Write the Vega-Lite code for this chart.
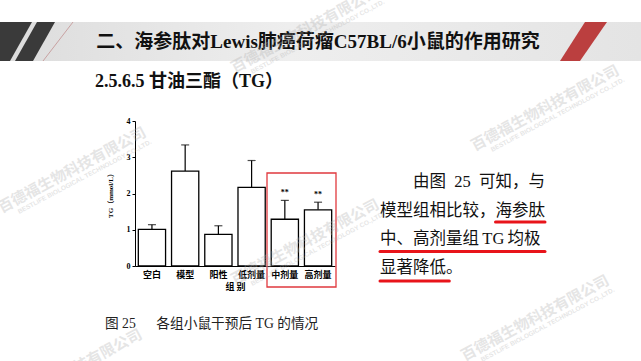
{
  "$schema": "https://vega.github.io/schema/vega-lite/v6.json",
  "width": 200,
  "height": 145,
  "autosize": {"type": "none"},
  "padding": {"left": 135, "top": 121, "right": 306, "bottom": 95},
  "background": "white",
  "config": {
    "view": {"stroke": null},
    "axisY": {"values": [0, 1, 2, 3, 4], "format": "d", "grid": false, "domainColor": "black", "tickColor": "black", "tickSize": 3, "labelOverlap": false,
      "labelFont": "Liberation Serif", "labelFontWeight": "bold", "labelFontSize": 8, "labelColor": "black", "labelPadding": 2,
      "titleFont": "Liberation Serif, Noto Sans CJK SC", "titleFontSize": 7, "titleFontWeight": "bold", "titleColor": "black", "titlePadding": 13}
  },
  "datasets": {
    "bars": [
      {"group": "空白", "tg": 1.01, "upper": 1.14, "sig": ""},
      {"group": "模型", "tg": 2.62, "upper": 3.34, "sig": ""},
      {"group": "阳性", "tg": 0.87, "upper": 1.11, "sig": ""},
      {"group": "低剂量", "tg": 2.17, "upper": 2.91, "sig": ""},
      {"group": "中剂量", "tg": 1.29, "upper": 1.81, "sig": "**"},
      {"group": "高剂量", "tg": 1.55, "upper": 1.76, "sig": "**"}
    ],
    "para": [
      {"line": 1, "text": "由图\u200225\u2002可知，与"},
      {"line": 2, "text": "模型组相比较，海参肽"},
      {"line": 3, "text": "中、高剂量组\u2009TG\u2009均极"},
      {"line": 4, "text": "显著降低。"}
    ],
    "under": [
      {"line": 2, "from": 7, "to": 10},
      {"line": 3, "from": 0, "to": 10},
      {"line": 4, "from": 0, "to": 4.2}
    ],
    "one": [{}],
    "wm": [{"cn": "百德福生物科技有限公司", "en": "BESTLIFE BIOLOGICAL TECHNOLOGY CO.,LTD."}]
  },
  "layer": [
    {
      "data": {"name": "one"},
      "mark": {"type": "rect", "fill": {"gradient": "linear", "stops": [{"offset": 0, "color": "#dcdcdc"}, {"offset": 0.45, "color": "#eeeeee"}, {"offset": 1, "color": "#e4e4e4"}]}},
      "encoding": {
        "x": {"datum": 0, "type": "quantitative", "scale": {"domain": [0, 641], "range": [-135, 506], "nice": false, "zero": false}, "axis": null},
        "x2": {"datum": 641},
        "y": {"datum": 22, "type": "quantitative", "scale": {"domain": [0, 361], "range": [-121, 240], "nice": false, "zero": false}, "axis": null},
        "y2": {"datum": 61}
      }
    },
    {
      "data": {"name": "one"},
      "mark": {"type": "point", "filled": true, "fill": "#3a3a3a", "opacity": 1, "strokeWidth": 0, "size": 2916, "shape": "M-0.185,-0.722L1,-0.722L0.185,0.722L-1,0.722Z"},
      "encoding": {
        "x": {"datum": 5, "type": "quantitative", "scale": {"domain": [0, 641], "range": [-135, 506], "nice": false, "zero": false}, "axis": null},
        "y": {"datum": 41.5, "type": "quantitative", "scale": {"domain": [0, 361], "range": [-121, 240], "nice": false, "zero": false}, "axis": null}
      }
    },
    {
      "data": {"name": "one"},
      "mark": {"type": "point", "filled": true, "fill": "#3a3a3a", "opacity": 1, "strokeWidth": 0, "size": 1600, "shape": "M0.1,-0.975L1,-0.975L-0.1,0.975L-1,0.975Z"},
      "encoding": {
        "x": {"datum": 35, "type": "quantitative", "scale": {"domain": [0, 641], "range": [-135, 506], "nice": false, "zero": false}, "axis": null},
        "y": {"datum": 41.5, "type": "quantitative", "scale": {"domain": [0, 361], "range": [-121, 240], "nice": false, "zero": false}, "axis": null}
      }
    },
    {
      "data": {"name": "one"},
      "mark": {"type": "rule", "color": "#c9a2a2", "strokeWidth": 1},
      "encoding": {
        "x": {"datum": 73, "type": "quantitative", "scale": {"domain": [0, 641], "range": [-135, 506], "nice": false, "zero": false}, "axis": null},
        "x2": {"datum": 43},
        "y": {"datum": 22, "type": "quantitative", "scale": {"domain": [0, 361], "range": [-121, 240], "nice": false, "zero": false}, "axis": null},
        "y2": {"datum": 61}
      }
    },
    {
      "data": {"name": "one"},
      "mark": {"type": "point", "filled": true, "fill": "#bb3f3f", "opacity": 1, "strokeWidth": 0, "size": 2304, "shape": "M0.0625,-0.8125L0.979,-0.8125L-0.146,0.8125L-0.979,0.8125Z"},
      "encoding": {
        "x": {"datum": 583.5, "type": "quantitative", "scale": {"domain": [0, 641], "range": [-135, 506], "nice": false, "zero": false}, "axis": null},
        "y": {"datum": 41.5, "type": "quantitative", "scale": {"domain": [0, 361], "range": [-121, 240], "nice": false, "zero": false}, "axis": null}
      }
    },
    {
      "data": {"values": [{"t": "二、海参肽对Lewis肺癌荷瘤C57BL/6小鼠的作用研究"}]},
      "mark": {"type": "text", "font": "Liberation Serif, Noto Sans CJK SC", "fontSize": 19, "fontWeight": "bold", "color": "#111111", "align": "center", "baseline": "middle"},
      "encoding": {
        "x": {"datum": 318, "type": "quantitative", "scale": {"domain": [0, 641], "range": [-135, 506], "nice": false, "zero": false}, "axis": null},
        "y": {"datum": 42, "type": "quantitative", "scale": {"domain": [0, 361], "range": [-121, 240], "nice": false, "zero": false}, "axis": null},
        "text": {"field": "t"}
      }
    },
    {
      "data": {"values": [{"t": "2.5.6.5 甘油三酯（TG）"}]},
      "mark": {"type": "text", "font": "Liberation Serif, Noto Sans CJK SC", "fontSize": 18, "fontWeight": "bold", "color": "#111111", "align": "left", "baseline": "middle"},
      "encoding": {
        "x": {"datum": 95, "type": "quantitative", "scale": {"domain": [0, 641], "range": [-135, 506], "nice": false, "zero": false}, "axis": null},
        "y": {"datum": 82, "type": "quantitative", "scale": {"domain": [0, 361], "range": [-121, 240], "nice": false, "zero": false}, "axis": null},
        "text": {"field": "t"}
      }
    },
    {
      "data": {"name": "bars"},
      "encoding": {
        "x": {
          "field": "group", "type": "nominal", "sort": null,
          "scale": {"paddingInner": 0.18, "paddingOuter": 0.1},
          "axis": {"title": "组 别", "labelAngle": 0, "ticks": false, "domainColor": "black", "domainWidth": 1,
            "labelFont": "Noto Sans CJK SC", "labelFontWeight": "bold", "labelFontSize": 9, "labelColor": "black", "labelPadding": 4,
            "titleFont": "Noto Sans CJK SC", "titleFontWeight": "bold", "titleFontSize": 9, "titleColor": "black", "titlePadding": 3}
        }
      },
      "layer": [
        {
          "mark": {"type": "rule", "color": "black", "strokeWidth": 1.2},
          "encoding": {
            "y": {"field": "tg", "type": "quantitative", "scale": {"domain": [0, 4], "nice": false}, "title": "TG（mmol/L）"},
            "y2": {"field": "upper"}
          }
        },
        {
          "mark": {"type": "tick", "color": "black", "thickness": 1.2, "size": 8},
          "encoding": {"y": {"field": "upper", "type": "quantitative", "title": "TG（mmol/L）"}}
        },
        {
          "mark": {"type": "bar", "fill": "white", "stroke": "black", "strokeWidth": 1.3},
          "encoding": {"y": {"field": "tg", "type": "quantitative", "title": "TG（mmol/L）"}}
        },
        {
          "mark": {"type": "text", "baseline": "bottom", "dy": -3, "fontSize": 8, "fontWeight": "bold", "font": "Liberation Serif", "color": "black"},
          "encoding": {"y": {"field": "upper", "type": "quantitative", "title": "TG（mmol/L）"}, "text": {"field": "sig"}}
        }
      ]
    },
    {
      "data": {"name": "one"},
      "mark": {"type": "rect", "fill": null, "fillOpacity": 0, "stroke": "#e0393e", "strokeWidth": 1.3},
      "encoding": {
        "x": {"datum": 267, "type": "quantitative", "scale": {"domain": [0, 641], "range": [-135, 506], "nice": false, "zero": false}, "axis": null},
        "x2": {"datum": 336},
        "y": {"datum": 173, "type": "quantitative", "scale": {"domain": [0, 361], "range": [-121, 240], "nice": false, "zero": false}, "axis": null},
        "y2": {"datum": 287}
      }
    },
    {
      "data": {"name": "para"},
      "transform": [{"filter": "datum.line == 1"}],
      "mark": {"type": "text", "font": "Liberation Serif, Noto Sans CJK SC", "fontSize": 16.5, "color": "#111111", "align": "left", "baseline": "middle"},
      "encoding": {
        "x": {"datum": 413, "type": "quantitative", "scale": {"domain": [0, 641], "range": [-135, 506], "nice": false, "zero": false}, "axis": null},
        "y": {"field": "line", "type": "quantitative", "scale": {"domain": [1, 4], "range": [61, 147], "nice": false, "zero": false}, "axis": null},
        "text": {"field": "text"}
      }
    },
    {
      "data": {"name": "para"},
      "transform": [{"filter": "datum.line > 1"}],
      "mark": {"type": "text", "font": "Liberation Serif, Noto Sans CJK SC", "fontSize": 16.5, "color": "#111111", "align": "left", "baseline": "middle"},
      "encoding": {
        "x": {"datum": 380, "type": "quantitative", "scale": {"domain": [0, 641], "range": [-135, 506], "nice": false, "zero": false}, "axis": null},
        "y": {"field": "line", "type": "quantitative", "scale": {"domain": [1, 4], "range": [61, 147], "nice": false, "zero": false}, "axis": null},
        "text": {"field": "text"}
      }
    },
    {
      "data": {"name": "under"},
      "mark": {"type": "rule", "color": "#e8141a", "strokeWidth": 3, "strokeCap": "round"},
      "encoding": {
        "x": {"field": "from", "type": "quantitative", "scale": {"domain": [0, 10], "range": [245, 410], "nice": false, "zero": false}, "axis": null},
        "x2": {"field": "to"},
        "y": {"field": "line", "type": "quantitative", "scale": {"domain": [2, 4], "range": [101, 160], "nice": false, "zero": false}, "axis": null}
      }
    },
    {
      "data": {"values": [{"t": "图 25\u2003\u2002各组小鼠干预后 TG 的情况"}]},
      "mark": {"type": "text", "font": "Liberation Serif, Noto Sans CJK SC", "fontSize": 13.7, "color": "#222222", "align": "left", "baseline": "middle"},
      "encoding": {
        "x": {"datum": 105, "type": "quantitative", "scale": {"domain": [0, 641], "range": [-135, 506], "nice": false, "zero": false}, "axis": null},
        "y": {"datum": 324, "type": "quantitative", "scale": {"domain": [0, 361], "range": [-121, 240], "nice": false, "zero": false}, "axis": null},
        "text": {"field": "t"}
      }
    },
    {
      "data": {"name": "wm"},
      "layer": [
        {"mark": {"type": "text", "font": "Noto Sans CJK SC", "fontWeight": "bold", "fontSize": 15, "angle": -28, "color": "#b0b0b0", "opacity": 0.32, "align": "center", "baseline": "middle"},
          "encoding": {"x": {"datum": 72, "type": "quantitative", "scale": {"domain": [0, 641], "range": [-135, 506], "nice": false, "zero": false}, "axis": null},
            "y": {"datum": 170, "type": "quantitative", "scale": {"domain": [0, 361], "range": [-121, 240], "nice": false, "zero": false}, "axis": null}, "text": {"field": "cn"}}},
        {"mark": {"type": "text", "font": "Liberation Sans", "fontWeight": "bold", "fontSize": 6.5, "angle": -28, "dy": 12, "dx": 8, "color": "#b0b0b0", "opacity": 0.32, "align": "center", "baseline": "middle"},
          "encoding": {"x": {"datum": 72, "type": "quantitative"}, "y": {"datum": 170, "type": "quantitative"}, "text": {"field": "en"}}},
        {"mark": {"type": "text", "font": "Noto Sans CJK SC", "fontWeight": "bold", "fontSize": 15, "angle": -28, "color": "#b0b0b0", "opacity": 0.32, "align": "center", "baseline": "middle"},
          "encoding": {"x": {"datum": 305, "type": "quantitative"}, "y": {"datum": 242, "type": "quantitative"}, "text": {"field": "cn"}}},
        {"mark": {"type": "text", "font": "Liberation Sans", "fontWeight": "bold", "fontSize": 6.5, "angle": -28, "dy": 12, "dx": 8, "color": "#b0b0b0", "opacity": 0.32, "align": "center", "baseline": "middle"},
          "encoding": {"x": {"datum": 305, "type": "quantitative"}, "y": {"datum": 242, "type": "quantitative"}, "text": {"field": "en"}}},
        {"mark": {"type": "text", "font": "Noto Sans CJK SC", "fontWeight": "bold", "fontSize": 15, "angle": -28, "color": "#b0b0b0", "opacity": 0.32, "align": "center", "baseline": "middle"},
          "encoding": {"x": {"datum": 305, "type": "quantitative"}, "y": {"datum": 30, "type": "quantitative"}, "text": {"field": "cn"}}},
        {"mark": {"type": "text", "font": "Liberation Sans", "fontWeight": "bold", "fontSize": 6.5, "angle": -28, "dy": 12, "dx": 8, "color": "#b0b0b0", "opacity": 0.32, "align": "center", "baseline": "middle"},
          "encoding": {"x": {"datum": 305, "type": "quantitative"}, "y": {"datum": 30, "type": "quantitative"}, "text": {"field": "en"}}},
        {"mark": {"type": "text", "font": "Noto Sans CJK SC", "fontWeight": "bold", "fontSize": 15, "angle": -28, "color": "#b0b0b0", "opacity": 0.32, "align": "center", "baseline": "middle"},
          "encoding": {"x": {"datum": 545, "type": "quantitative"}, "y": {"datum": 108, "type": "quantitative"}, "text": {"field": "cn"}}},
        {"mark": {"type": "text", "font": "Liberation Sans", "fontWeight": "bold", "fontSize": 6.5, "angle": -28, "dy": 12, "dx": 8, "color": "#b0b0b0", "opacity": 0.32, "align": "center", "baseline": "middle"},
          "encoding": {"x": {"datum": 545, "type": "quantitative"}, "y": {"datum": 108, "type": "quantitative"}, "text": {"field": "en"}}},
        {"mark": {"type": "text", "font": "Noto Sans CJK SC", "fontWeight": "bold", "fontSize": 15, "angle": -28, "color": "#b0b0b0", "opacity": 0.32, "align": "center", "baseline": "middle"},
          "encoding": {"x": {"datum": 535, "type": "quantitative"}, "y": {"datum": 318, "type": "quantitative"}, "text": {"field": "cn"}}},
        {"mark": {"type": "text", "font": "Liberation Sans", "fontWeight": "bold", "fontSize": 6.5, "angle": -28, "dy": 12, "dx": 8, "color": "#b0b0b0", "opacity": 0.32, "align": "center", "baseline": "middle"},
          "encoding": {"x": {"datum": 535, "type": "quantitative"}, "y": {"datum": 318, "type": "quantitative"}, "text": {"field": "en"}}},
        {"mark": {"type": "text", "font": "Noto Sans CJK SC", "fontWeight": "bold", "fontSize": 15, "angle": -28, "color": "#b0b0b0", "opacity": 0.32, "align": "center", "baseline": "middle"},
          "encoding": {"x": {"datum": 68, "type": "quantitative"}, "y": {"datum": 372, "type": "quantitative"}, "text": {"field": "cn"}}}
      ]
    }
  ],
  "resolve": {"scale": {"x": "independent", "y": "independent"}}
}
